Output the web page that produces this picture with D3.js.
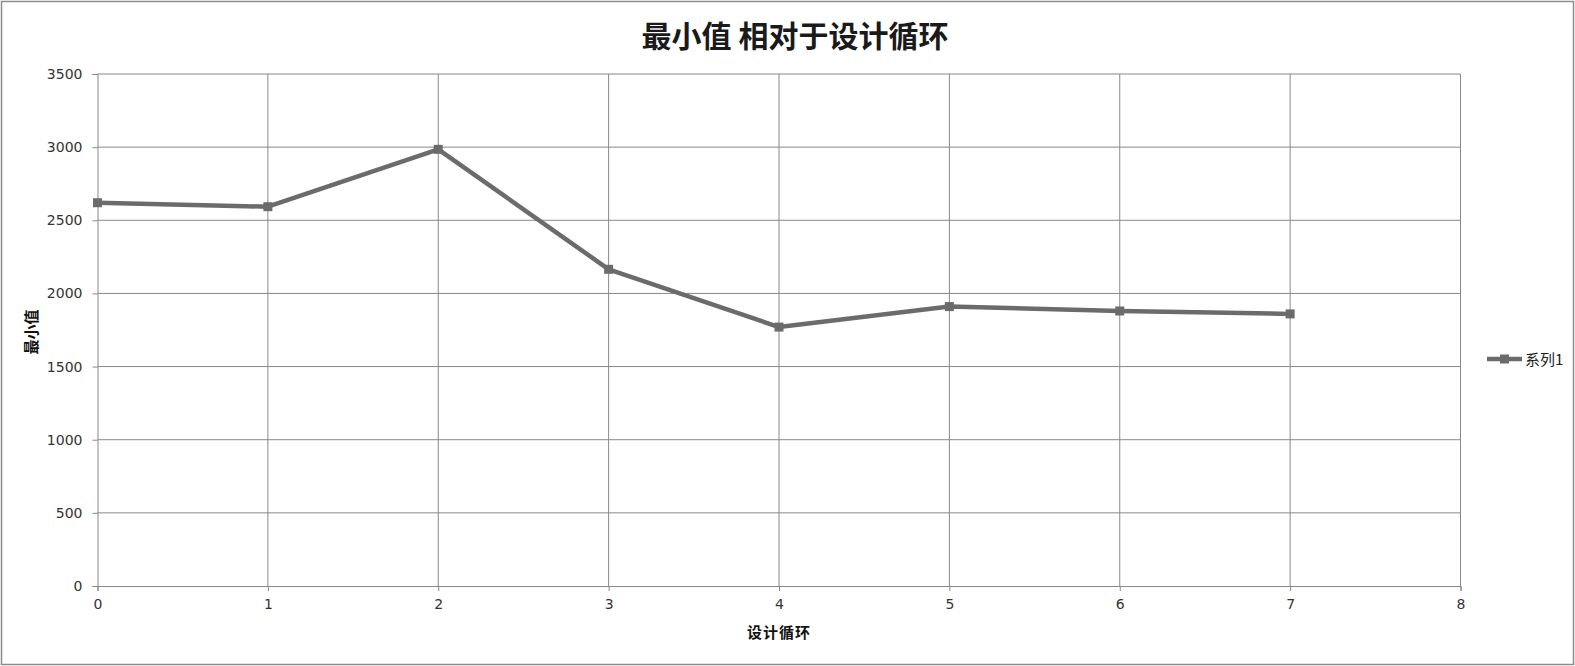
<!DOCTYPE html>
<html><head><meta charset="utf-8">
<script src="https://cdn.jsdelivr.net/npm/d3@7"></script>
<style>body{margin:0;background:#fff}svg{display:block}</style>
</head><body>
<script>
const cycles = [0,1,2,3,4,5,6,7];
const minValues = [2620,2593,2985,2165,1770,1910,1880,1860];
const xTicks = [0,1,2,3,4,5,6,7,8];
const yTicks = [0,500,1000,1500,2000,2500,3000,3500];
const seriesName = "系列1";
const title = "最小值 相对于设计循环";
const xTitle = "设计循环";
const yTitle = "最小值";

const W=1575,H=666;
const svg=d3.select("body").append("svg").attr("width",W).attr("height",H);
const font="'Noto Sans CJK SC','Noto Sans',sans-serif";
const numFont="'DejaVu Sans',sans-serif";
svg.append("rect").attr("x",1.5).attr("y",1.5).attr("width",W-3).attr("height",H-3)
  .attr("fill","#fff").attr("stroke","#8c8c8c").attr("stroke-width",1.5);

const x=d3.scaleLinear().domain([0,8]).range([97.5,1460.5]);
const y=d3.scaleLinear().domain([0,3500]).range([586,74]);
const grid="#888";

const gx=svg.append("g").attr("transform","translate(0,586)")
  .call(d3.axisBottom(x).tickValues(xTicks).tickSize(5).tickPadding(8).tickFormat(d3.format("d")));
const gy=svg.append("g").attr("transform","translate(97.5,0)")
  .call(d3.axisLeft(y).tickValues(yTicks).tickSize(5).tickPadding(10).tickFormat(d3.format("d")));
[gx,gy].forEach(g=>{
  g.select(".domain").attr("stroke",grid);
  g.selectAll(".tick line").attr("stroke",grid);
  g.selectAll("text").attr("fill","#333").style("font-family",numFont).style("font-size","14px");
});
// gridlines
svg.append("g").selectAll("line").data(xTicks.filter(d=>d>0)).join("line")
  .attr("x1",d=>x(d)).attr("x2",d=>x(d)).attr("y1",y(3500)).attr("y2",y(0))
  .attr("stroke",grid).attr("stroke-width",1);
svg.append("g").selectAll("line").data(yTicks.filter(d=>d>0)).join("line")
  .attr("x1",x(0)).attr("x2",x(8)).attr("y1",d=>y(d)).attr("y2",d=>y(d))
  .attr("stroke",grid).attr("stroke-width",1);

const pts=cycles.map((c,i)=>[c,minValues[i]]);
const col="#6b6b6b";
svg.append("path").datum(pts).attr("fill","none").attr("stroke",col).attr("stroke-width",4.5)
  .attr("stroke-linejoin","round")
  .attr("d",d3.line().x(d=>x(d[0])).y(d=>y(d[1])));
svg.append("g").selectAll("rect").data(pts).join("rect")
  .attr("x",d=>x(d[0])-4.5).attr("y",d=>y(d[1])-4.5).attr("width",9).attr("height",9)
  .attr("fill",col);

svg.append("text").attr("x",795).attr("y",47).attr("text-anchor","middle")
  .attr("font-family",font).attr("font-size",30).attr("font-weight","bold").attr("fill","#1a1a1a").text(title);
svg.append("text").attr("x",779).attr("y",638).attr("text-anchor","middle").attr("letter-spacing",1)
  .attr("font-family",font).attr("font-size",15).attr("font-weight","bold").attr("fill","#111").text(xTitle);
svg.append("text").attr("transform","translate(37,332) rotate(-90)").attr("text-anchor","middle")
  .attr("font-family",font).attr("font-size",15).attr("font-weight","bold").attr("fill","#111").text(yTitle);

// legend
const lg=svg.append("g");
lg.append("line").attr("x1",1487).attr("x2",1522).attr("y1",359).attr("y2",359).attr("stroke",col).attr("stroke-width",4.5);
lg.append("rect").attr("x",1500).attr("y",354.5).attr("width",9).attr("height",9).attr("fill",col);
lg.append("text").attr("x",1525).attr("y",365).attr("font-family",font).attr("font-size",15).attr("fill","#222").text(seriesName);
</script>
</body></html>
